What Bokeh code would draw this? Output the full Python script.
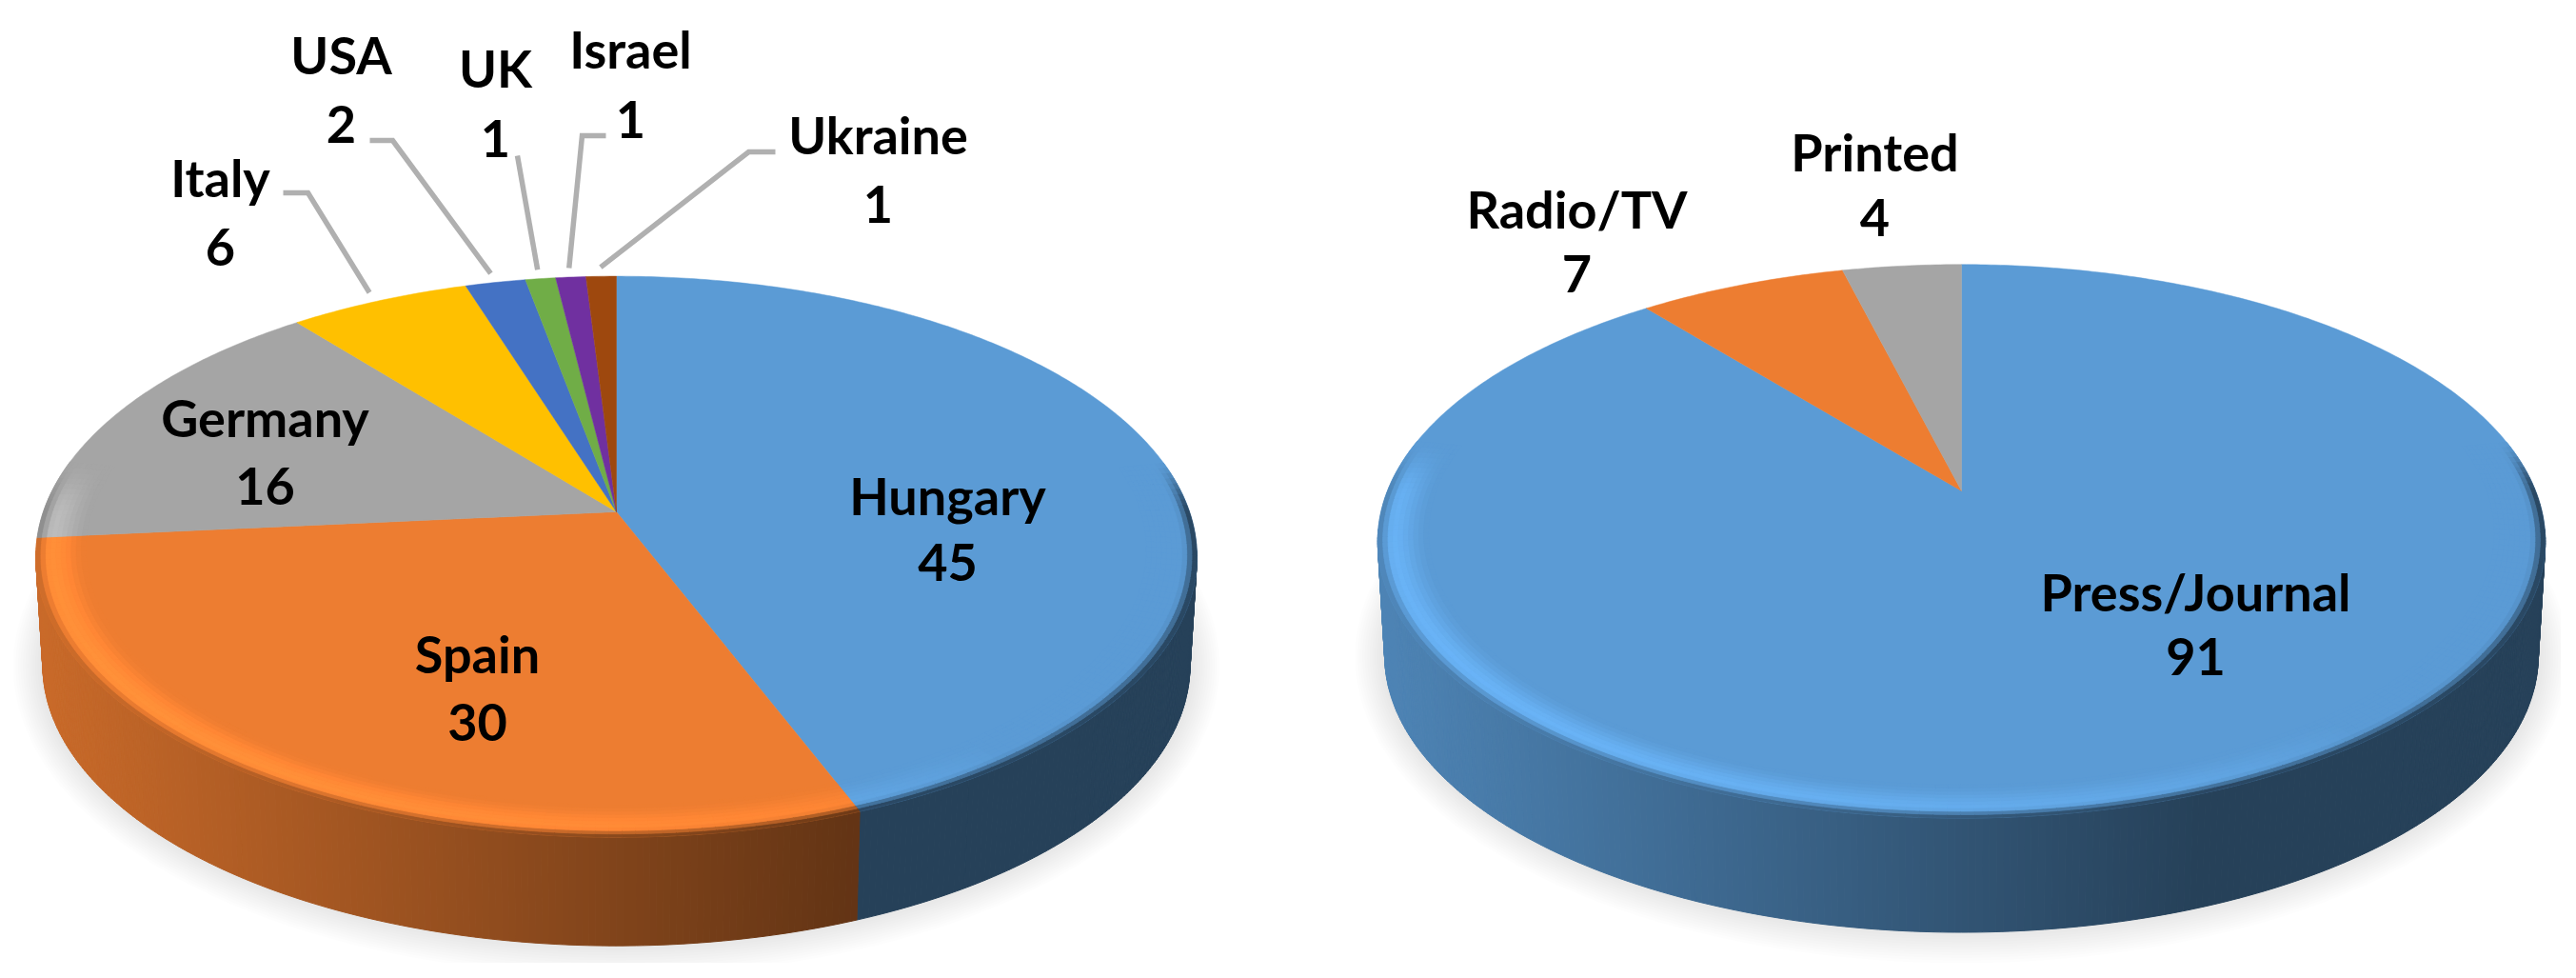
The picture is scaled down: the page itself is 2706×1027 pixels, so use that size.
import numpy as np
from bokeh.embed import file_html
from bokeh.resources import INLINE
from bokeh.plotting import figure
from bokeh.models import ColumnDataSource, Range1d
from bokeh.core.properties import value

# ---------- data ----------
country_names = ["Hungary", "Spain", "Germany", "Italy", "USA", "UK", "Israel", "Ukraine"]
country_values = [45, 30, 16, 6, 2, 1, 1, 1]
country_colors = ["#5B9BD5", "#ED7D31", "#A5A5A5", "#FFC000", "#4472C4", "#70AD47", "#7030A0", "#9E480E"]

media_names = ["Press/Journal", "Radio/TV", "Printed"]
media_values = [91, 7, 4]
media_colors = ["#5B9BD5", "#ED7D31", "#A5A5A5"]

# ---------- layout ----------
country_label_xy = [(995, 520, 590), (501, 686, 758), (278, 438, 510), (231, 186, 259),
                    (358, 57, 130), (520, 71, 145), (662, 51, 125), (922, 141, 214)]
media_label_xy = [(2306, 621, 689), (1656, 219, 287), (1969, 159, 228)]
# leader elbows: slice index -> stub end, elbow
country_leaders = {3: [(297, 202), (323, 202)], 4: [(388, 147), (412, 147)], 5: [(543, 163)],
                   6: [(636, 142), (611, 142)], 7: [(814, 159), (786, 159)]}
PIE_L = dict(cx=647.0, cy=537.0, R=602.0, S=287.0, k=0.16, depth=114.0)
PIE_R = dict(cx=2060.0, cy=515.0, R=603.0, S=281.0, k=0.182, depth=120.0)
FONT = "Lato"
FONT_SIZE = "54px"
BAND = 0.085


def project(pie, theta, r=1.0):
    """theta in radians clockwise from 12 o'clock."""
    X, Y = r * np.sin(theta), r * np.cos(theta)
    w = 1 + pie["k"] * Y
    return pie["cx"] + pie["R"] * X / w, pie["cy"] - pie["S"] * Y / w


def rgb(h):
    return np.array([int(h[i:i + 2], 16) for i in (1, 3, 5)], float)


def hexs(c):
    c = np.clip(c, 0, 255).round().astype(int)
    return "#%02x%02x%02x" % tuple(c)


def side_factor(pie, x):
    half = pie["R"] * 1.015
    t = (x - (pie["cx"] - half)) / (2 * half)
    return 0.85 - (0.85 - 0.42) * np.clip(t / 0.70, 0, 1)


def smooth(t):
    t = np.clip(t, 0, 1)
    return t * t * (3 - 2 * t)


p = figure(width=2690, height=1011, output_backend="svg", toolbar_location=None,
           x_range=Range1d(0, 2690), y_range=Range1d(1011, 0), min_border=0,
           outline_line_color=None, background_fill_color="white")
p.axis.visible = False
p.grid.visible = False


def draw_pie(pie, vals, cols):
    vals = np.asarray(vals, float)
    edges = np.concatenate([[0], np.cumsum(vals)]) / vals.sum() * 2 * np.pi

    # shadow
    th = np.linspace(0, 2 * np.pi, 240)
    xs_s, ys_s = [], []
    for g in np.linspace(30, 2, 12):
        x, y = project(pie, th)
        mx, my = pie["cx"], pie["cy"] + 40
        sx = 1 + g / pie["R"]
        sy = 1 + g / pie["S"]
        xs_s.append(list(mx + (x - mx) * sx * 0.99))
        ys_s.append(list(my + (y - my) * sy + pie["depth"]))
    p.patches(xs_s, ys_s, fill_color="black", fill_alpha=0.0095, line_color=None)

    # side wall, one thin strip per step
    sx_, sy_, sc_ = [], [], []
    for i, c in enumerate(cols):
        a, b = edges[i], edges[i + 1]
        lo, hi = max(a, np.pi / 2 + 0.14), min(b, 3 * np.pi / 2 - 0.14)
        if hi <= lo:
            continue
        n = max(2, int((hi - lo) / 0.01))
        ts = np.linspace(lo, hi, n + 1)
        x, y = project(pie, ts)
        base = rgb(c)
        for j in range(n):
            xb0 = pie["cx"] + (x[j] - pie["cx"]) * 0.988
            xb1 = pie["cx"] + (x[j + 1] - pie["cx"]) * 0.988
            sx_.append([x[j], x[j + 1], xb1, xb0])
            sy_.append([y[j], y[j + 1], y[j + 1] + pie["depth"], y[j] + pie["depth"]])
            sc_.append(hexs(base * side_factor(pie, (x[j] + x[j + 1]) / 2)))
    p.patches(xs=sx_, ys=sy_, fill_color=sc_, line_color=sc_, line_width=1)

    # top face
    for i, c in enumerate(cols):
        ts = np.linspace(edges[i], edges[i + 1], max(3, int((edges[i + 1] - edges[i]) / 0.01)))
        x, y = project(pie, ts)
        p.patch(list(x) + [pie["cx"]], list(y) + [pie["cy"]], fill_color=c, line_color=c, line_width=0.5)

    # bevel along the rim
    bx, by, bc = [], [], []
    ss = np.linspace(0, 1, 11)
    light = np.array([-0.80, -0.60])
    for i, c in enumerate(cols):
        base = rgb(c)
        a, b = edges[i], edges[i + 1]
        n = max(2, int((b - a) / 0.02))
        ts = np.linspace(a, b, n + 1)
        for j in range(n):
            t0, t1 = ts[j], ts[j + 1]
            tm = (t0 + t1) / 2
            Xm, Ym = np.sin(tm), np.cos(tm)
            w = 1 - smooth((Ym + 0.02) / 0.22)
            if w <= 0.01:
                continue
            L = Xm * light[0] + Ym * light[1]
            mid = base * (1 + 0.16 * max(L, 0) ** 0.7)
            xm, _ = project(pie, tm)
            side = base * side_factor(pie, xm)
            for q in range(len(ss) - 1):
                s0, s1 = ss[q], ss[q + 1]
                sm = (s0 + s1) / 2
                if sm < 0.30:
                    col = side + (mid - side) * smooth(sm / 0.30)
                else:
                    col = mid + (base - mid) * smooth((sm - 0.30) / 0.70)
                col = base + (col - base) * w
                r0, r1 = 1 - BAND * s0, 1 - BAND * s1
                x00, y00 = project(pie, t0, r0)
                x10, y10 = project(pie, t1, r0)
                x11, y11 = project(pie, t1, r1)
                x01, y01 = project(pie, t0, r1)
                bx.append([x00, x10, x11, x01])
                by.append([y00, y10, y11, y01])
                bc.append(hexs(col))
    p.patches(xs=bx, ys=by, fill_color=bc, line_color=bc, line_width=0.8)
    return edges


edges_l = draw_pie(PIE_L, country_values, country_colors)
edges_r = draw_pie(PIE_R, media_values, media_colors)

# leader lines
for idx, pts in country_leaders.items():
    ex, ey = project(PIE_L, (edges_l[idx] + edges_l[idx + 1]) / 2, 1.045)
    p.line([q[0] for q in pts] + [ex], [q[1] for q in pts] + [ey],
           line_color="#B0B0B0", line_width=5.5, line_join="miter")


def labels(names, vals, xy):
    xs = [a[0] for a in xy] + [a[0] for a in xy]
    ys = [a[1] for a in xy] + [a[2] for a in xy]
    texts = list(names) + [str(v) for v in vals]
    src = ColumnDataSource(dict(x=xs, y=ys, t=texts))
    p.text("x", "y", text="t", source=src, text_font=value(FONT), text_font_style="bold",
           text_font_size=value(FONT_SIZE), text_align="center", text_baseline="middle",
           text_color="black")


labels(country_names, country_values, country_label_xy)
labels(media_names, media_values, media_label_xy)

open("out.html", "w").write(file_html(p, INLINE))
